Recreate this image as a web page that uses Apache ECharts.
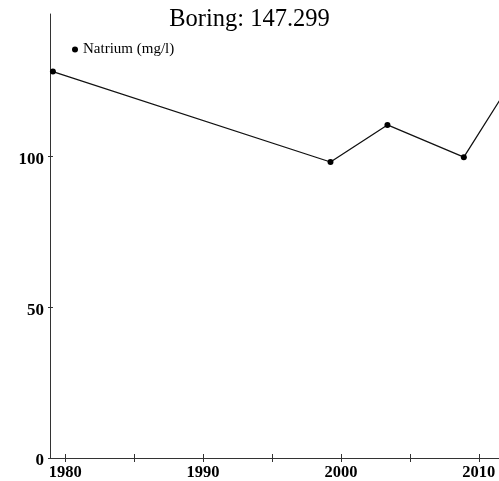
<!DOCTYPE html>
<html>
<head>
<meta charset="utf-8">
<script src="https://cdn.jsdelivr.net/npm/echarts@6/dist/echarts.min.js"></script>
<style>
  html, body { margin: 0; padding: 0; background: #fff; }
  #chart { width: 499px; height: 481px; }
</style>
</head>
<body>
<div id="chart"></div>
<script>
// measurement years (decimal) and sodium values
const years = [1979.11, 1999.24, 2003.37, 2008.91, 2013.0];
const natrium = [128.2, 98.2, 110.5, 99.8, 129.5];
const majorTicks = [1980, 1990, 2000, 2010];
const minorTicks = [1980, 1985, 1990, 1995, 2000, 2005, 2010];
const yTicks = [0, 50, 100];

const font = '"Liberation Serif", "Times New Roman", serif';
const axisColor = '#333';

const chart = echarts.init(document.getElementById('chart'));

// the original plot is cut off at the right edge, so the axis stops there
const xBase = {
  type: 'value',
  min: 1978.9,
  max: 2011.46,
  splitLine: { show: false },
  axisLine: { show: true, onZero: false, lineStyle: { color: axisColor, width: 1 } },
};

const yBase = {
  type: 'value',
  min: 0,
  max: 147.3,
  splitLine: { show: false },
  axisLine: { show: true, lineStyle: { color: axisColor, width: 1 } },
};

chart.setOption({
  animation: false,
  title: {
    text: 'Boring: 147.299',
    left: 'center',
    top: 2,
    textStyle: { fontFamily: font, fontWeight: 'normal', fontSize: 24.5, color: '#000' },
  },
  legend: {
    left: 67,
    top: 37,
    icon: 'circle',
    itemWidth: 6,
    itemHeight: 6,
    textStyle: { fontFamily: font, fontSize: 15, color: '#000' },
  },
  grid: { left: 50, top: 14, bottom: 23, right: 0, outerBoundsMode: 'none' },
  xAxis: [
    Object.assign({}, xBase, {
      axisTick: { show: true, length: 4, customValues: minorTicks, lineStyle: { color: axisColor } },
      axisLabel: {
        customValues: majorTicks,
        formatter: (v) => String(v),
        margin: 6,
        fontFamily: font,
        fontWeight: 'bold',
        fontSize: 16.5,
        color: '#000',
      },
    }),
    Object.assign({}, xBase, {
      position: 'bottom',
      axisLine: { show: false },
      axisTick: { show: true, inside: true, length: 4, customValues: minorTicks, lineStyle: { color: axisColor } },
      axisLabel: { show: false },
    }),
  ],
  yAxis: [
    Object.assign({}, yBase, {
      axisTick: { show: true, length: 2, customValues: yTicks, lineStyle: { color: axisColor } },
      axisLabel: {
        customValues: yTicks,
        margin: 6,
        verticalAlign: 'top',
        lineHeight: 6,
        fontFamily: font,
        fontWeight: 'bold',
        fontSize: 17,
        color: '#000',
      },
    }),
    Object.assign({}, yBase, {
      position: 'left',
      axisLine: { show: false },
      axisTick: { show: true, inside: true, length: 3, customValues: yTicks, lineStyle: { color: axisColor } },
      axisLabel: { show: false },
    }),
  ],
  series: [
    {
      name: 'Natrium (mg/l)',
      type: 'line',
      xAxisIndex: 0,
      yAxisIndex: 0,
      data: years.map((y, i) => [y, natrium[i]]),
      symbol: 'circle',
      symbolSize: 6,
      showAllSymbol: true,
      clip: true,
      itemStyle: { color: '#000' },
      lineStyle: { color: '#111', width: 1.3 },
    },
  ],
});
</script>
</body>
</html>
